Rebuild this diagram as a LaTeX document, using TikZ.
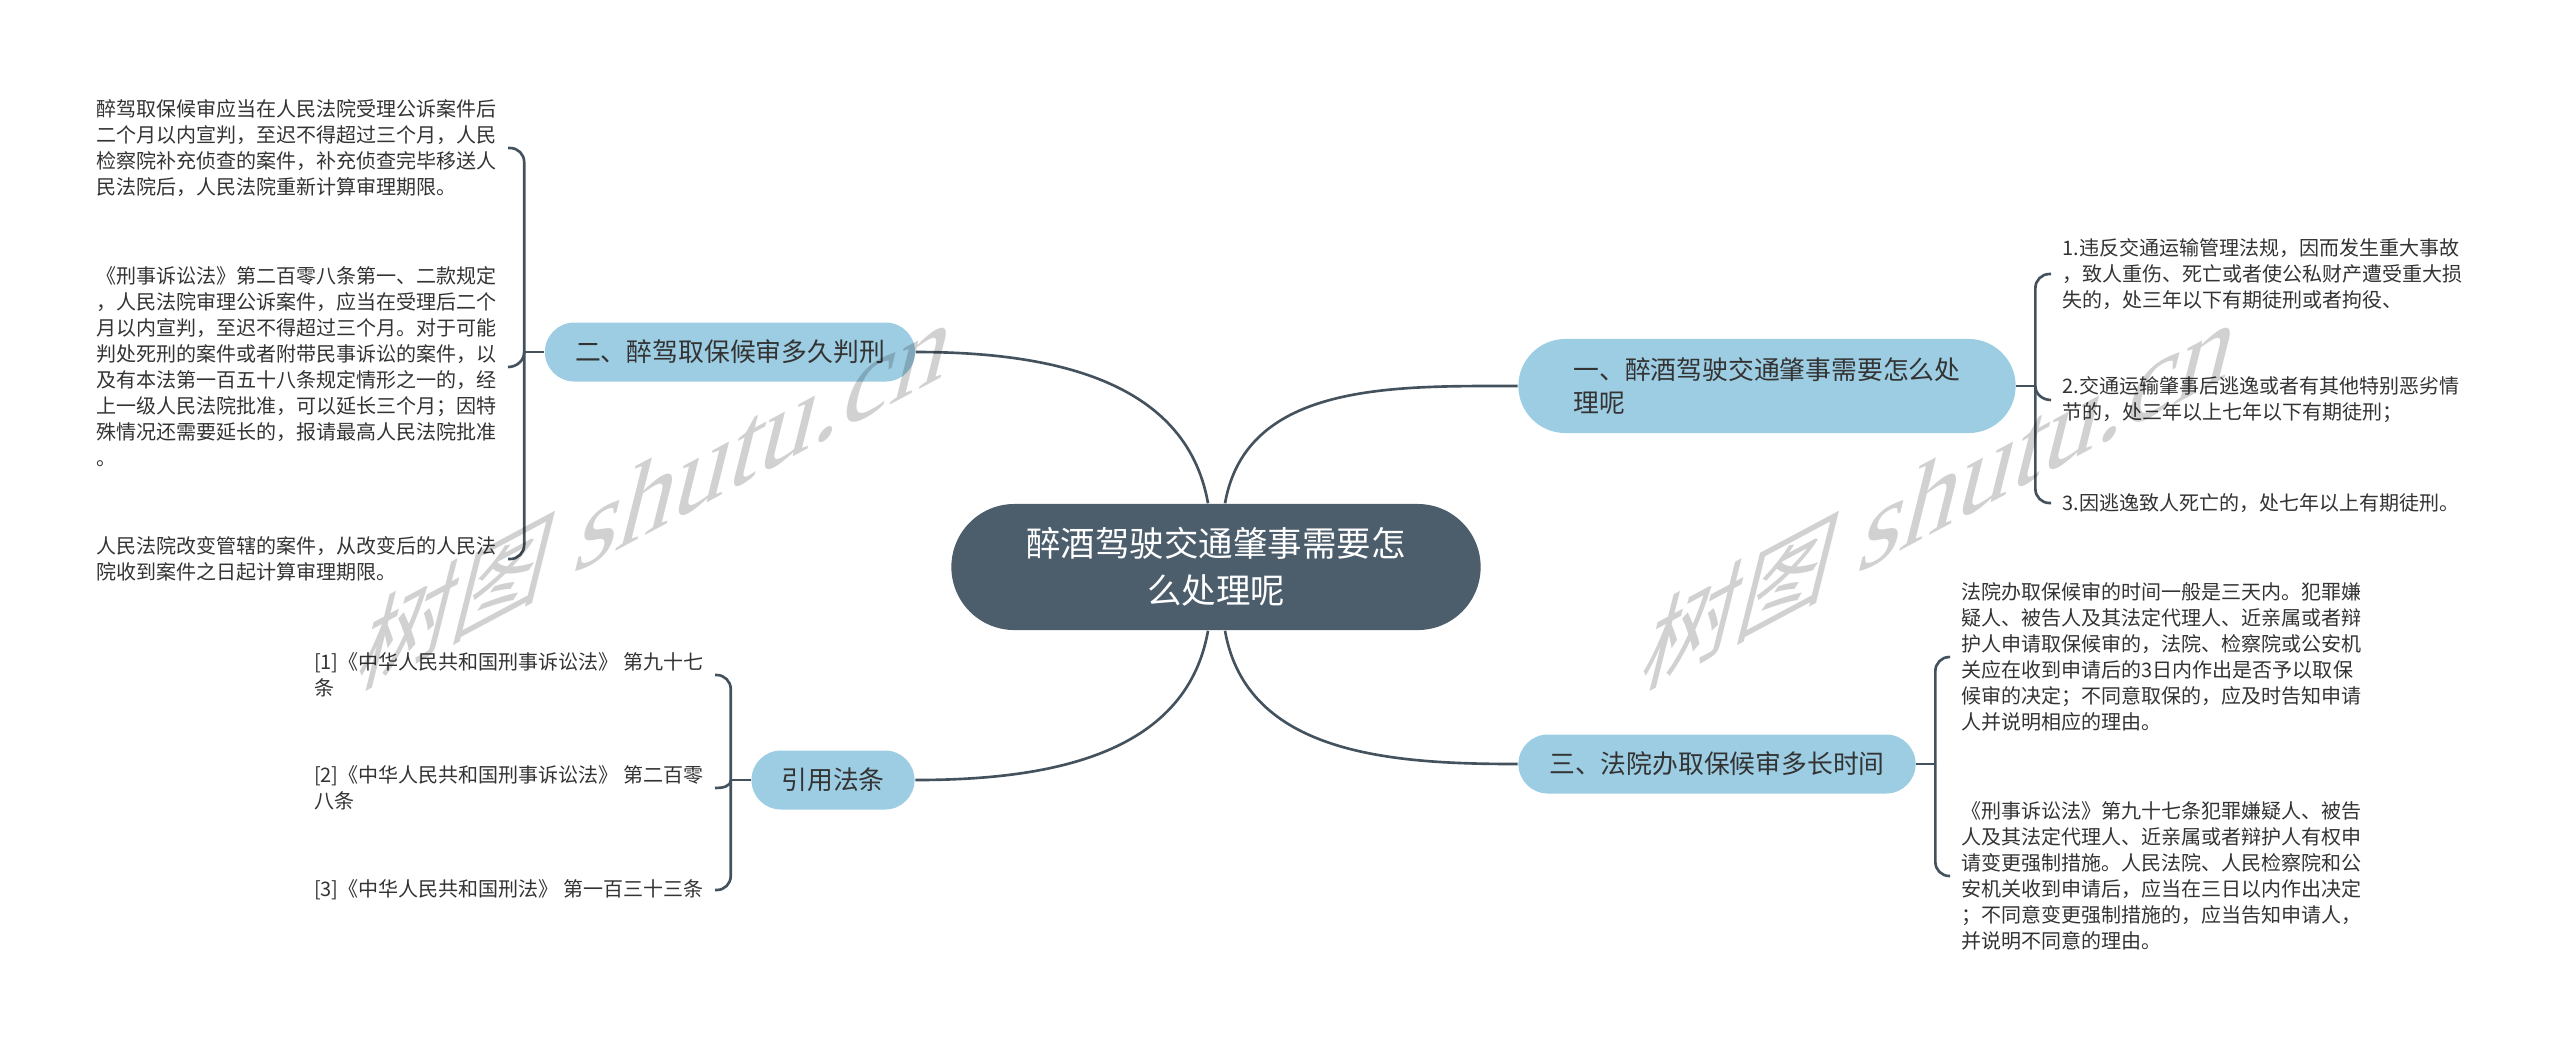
\documentclass[tikz,border=0pt]{standalone}
\usepackage{fontspec}
\newfontfamily\cjk{Noto Sans CJK SC}
\newfontfamily\wmlatin{Liberation Serif}
\definecolor{rootfill}{HTML}{4C5D6C}
\definecolor{topicfill}{HTML}{9DCDE3}
\definecolor{linkcol}{HTML}{44525E}
\definecolor{txt}{HTML}{333333}

\begin{document}
\begin{tikzpicture}[x=0.01cm,y=-0.01cm,
	root/.style={fill=rootfill,text=white,rounded corners=0.63cm,minimum width=5.29cm,minimum height=1.26cm,inner sep=0pt,align=center,font=\cjk\fontsize{9.8pt}{13.3pt}\selectfont},
	topic/.style={fill=topicfill,text=txt,rounded corners=0.295cm,minimum height=0.59cm,inner sep=0pt,align=left,font=\cjk\fontsize{7.34pt}{9.4pt}\selectfont},
	leaf/.style={text=txt,inner xsep=0.11cm,inner ysep=0pt,align=left,font=\cjk\fontsize{5.69pt}{7.4pt}\selectfont},
	elbow/.style={rounded corners=0.14cm,to path={|- (\tikztotarget)}},
	wmark/.style={cm={0.9,0.48,0.25,1,(0,0)},text=black,text opacity=0.18,inner sep=0pt,font=\wmlatin\fontsize{35pt}{35pt}\selectfont}]
\useasboundingbox (0,0) rectangle (2560,1047);

\node[root] (0) at (1216,567) {醉酒驾驶交通肇事需要怎\\么处理呢};

\node[topic,minimum width=4.97cm,minimum height=0.94cm,rounded corners=0.47cm] (1) at (1767,386) {一、醉酒驾驶交通肇事需要怎么处\\理呢};
\node[topic,minimum width=3.70cm] (2) at (730,352) {二、醉驾取保候审多久判刑};
\node[topic,minimum width=3.97cm] (3) at (1717,764) {三、法院办取保候审多长时间};
\node[topic,minimum width=1.63cm] (4) at (833,780) {引用法条};

\coordinate (j1) at ([xshift=0.19cm]1.east);
\coordinate (j2) at ([xshift=-0.2cm]2.west);
\coordinate (j3) at ([xshift=0.19cm]3.east);
\coordinate (j4) at ([xshift=-0.2cm]4.west);

\begin{scope}[every node/.style={leaf,anchor=west}]
	\node (11) at (2051,274) {1.违反交通运输管理法规，因而发生重大事故\\，致人重伤、死亡或者使公私财产遭受重大损\\失的，处三年以下有期徒刑或者拘役、};
	\node (12) at (2051,400) {2.交通运输肇事后逃逸或者有其他特别恶劣情\\节的，处三年以上七年以下有期徒刑；};
	\node (13) at (2051,503) {3.因逃逸致人死亡的，处七年以上有期徒刑。};

	\node (31) at (1950,657) {法院办取保候审的时间一般是三天内。犯罪嫌\\疑人、被告人及其法定代理人、近亲属或者辩\\护人申请取保候审的，法院、检察院或公安机\\关应在收到申请后的3日内作出是否予以取保\\候审的决定；不同意取保的，应及时告知申请\\人并说明相应的理由。};
	\node (32) at (1950,876) {《刑事诉讼法》第九十七条犯罪嫌疑人、被告\\人及其法定代理人、近亲属或者辩护人有权申\\请变更强制措施。人民法院、人民检察院和公\\安机关收到申请后，应当在三日以内作出决定\\；不同意变更强制措施的，应当告知申请人，\\并说明不同意的理由。};
\end{scope}

\begin{scope}[every node/.style={leaf,anchor=east}]
	\node (21) at (508,148) {醉驾取保候审应当在人民法院受理公诉案件后\\二个月以内宣判，至迟不得超过三个月，人民\\检察院补充侦查的案件，补充侦查完毕移送人\\民法院后，人民法院重新计算审理期限。};
	\node (22) at (508,367) {《刑事诉讼法》第二百零八条第一、二款规定\\，人民法院审理公诉案件，应当在受理后二个\\月以内宣判，至迟不得超过三个月。对于可能\\判处死刑的案件或者附带民事诉讼的案件，以\\及有本法第一百五十八条规定情形之一的，经\\上一级人民法院批准，可以延长三个月；因特\\殊情况还需要延长的，报请最高人民法院批准\\。};
	\node (23) at (508,559) {人民法院改变管辖的案件，从改变后的人民法\\院收到案件之日起计算审理期限。};

	\node (41) at (715,675) {[1]《中华人民共和国刑事诉讼法》 第九十七\\条};
	\node (42) at (715,788) {[2]《中华人民共和国刑事诉讼法》 第二百零\\八条};
	\node (43) at (715,890) {[3]《中华人民共和国刑法》 第一百三十三条};
\end{scope}

\begin{scope}[every edge/.style={draw=linkcol,line width=0.75pt}]
	\path (2.east) edge[out=0,in=100] ([xshift=-0.08cm]0.north);
	\path ([xshift=0.09cm]0.north) edge[out=80,in=180] (1.west);
	\path (4.east) edge[out=0,in=-100] ([xshift=-0.08cm]0.south);
	\path ([xshift=0.09cm]0.south) edge[out=-80,in=180] (3.west);

	\path (1.east) edge (j1);
	\path (j1) edge[elbow] (11.west);
	\path (j1) edge[out=-90,in=180] (12.west);
	\path (j1) edge[elbow] (13.west);

	\path (2.west) edge (j2);
	\path (j2) edge[elbow] (21.east);
	\path (j2) edge[out=-90,in=0] (22.east);
	\path (j2) edge[elbow] (23.east);

	\path (3.east) edge (j3);
	\path (j3) edge[elbow] (31.west);
	\path (j3) edge[elbow] (32.west);

	\path (4.west) edge (j4);
	\path (j4) edge[elbow] (41.east);
	\path (j4) edge[out=-90,in=0] (42.east);
	\path (j4) edge[elbow] (43.east);
\end{scope}

% watermark
\node[wmark,anchor=base west] (w1) at (352,692) {{\cjk\fontsize{30pt}{30pt}\selectfont 树图} shutu.cn};
\node[wmark,anchor=base west] (w2) at (1636,692) {{\cjk\fontsize{30pt}{30pt}\selectfont 树图} shutu.cn};
\end{tikzpicture}
\end{document}
